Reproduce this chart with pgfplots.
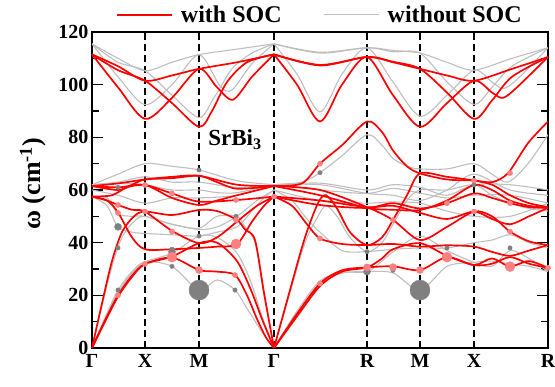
\documentclass[border=0pt]{standalone}
\usepackage{pgfplots}
\pgfplotsset{compat=1.18}
\usepackage{fontspec}
\setmainfont{Liberation Serif}
\definecolor{myred}{RGB}{255,0,0}
\definecolor{mygray}{RGB}{190,190,190}
\definecolor{dotpink}{RGB}{255,128,128}
\definecolor{dotgray}{RGB}{128,128,128}
\pgfplotsset{
  rb/.style={smooth, color=myred, line width=1.7pt, forget plot},
  gb/.style={smooth, color=mygray, line width=1.1pt, forget plot},
}
\begin{document}
\begin{tikzpicture}
\begin{axis}[
  name=ax,
  scale only axis, width=456pt, height=316pt,
  xmin=0, xmax=456, ymin=0, ymax=120,
  axis line style={line width=1.6pt},
  xtick={0,53,107,182,275,328,382,456},
  xticklabels={Γ,X,M,Γ,R,M,X,R},
  xtick style={draw=none},
  xticklabel style={yshift=-3pt},
  ytick={0,20,...,120}, minor ytick={10,30,...,110},
  ytick style={line width=1.4pt, black},
  tick align=inside, major tick length=11pt, minor tick length=7pt,
  ytick pos=both, yticklabel pos=left,
  /pgf/number format/assume math mode=true,
  ticklabel style={font=\fontsize{20}{24}\selectfont\bfseries},
  ylabel={ω (cm\textsuperscript{-1})},
  ylabel style={font=\fontsize{26}{30}\selectfont\bfseries, at={(axis description cs:-0.129,0.52)}, anchor=center},
  legend columns=2,
  legend style={at={(0.5,1)}, anchor=south, yshift=5pt, draw=none, fill=none, font=\fontsize{24}{28}\selectfont\bfseries, /tikz/every even column/.append style={column sep=40pt}, /tikz/every odd column/.append style={column sep=6pt}, inner sep=1pt},
  legend image code/.code={\draw[#1] (0pt,0pt) -- (55pt,0pt);},
  clip=true,
]
\addlegendimage{color=myred, line width=1.7pt}
\addlegendentry{with SOC}
\addlegendimage{color=mygray, line width=1.1pt}
\addlegendentry{without SOC}

% dashed lines
\foreach \xx in {53,107,182,275,328,382}{
  \edef\tmp{\noexpand\draw[dashed, dash pattern=on 7pt off 4pt, line width=1.2pt] (axis cs:\xx,0) -- (axis cs:\xx,120);}
  \tmp
}

% ===== gray (without SOC) upper =====
\addplot[gb] coordinates {(0,115.5)(26,110)(53,105.3)(80,108.5)(107,111.4)(145,113.5)(182,115.5)};
\addplot[gb] coordinates {(0,115.5)(26,108.5)(53,105.3)(80,96)(107,87.5)(122,95)(140,106)(160,112)(182,115.5)};
\addplot[gb] coordinates {(0,115.5)(26,103)(53,92.4)(80,100)(107,111.4)(128,99.5)(140,98)(160,108)(182,115.5)};
\addplot[gb] coordinates {(182,115.5)(228,112)(275,114)(301,113)(328,112)(355,108.5)(382,105.5)(420,110)(456,114)};
\addplot[gb] coordinates {(182,115.5)(205,104)(228,89.7)(250,104)(275,114)(301,101)(328,88)(355,96)(382,105.5)(400,101)(411,98.5)(425,102)(456,114)};
\addplot[gb] coordinates {(182,115.5)(228,112.3)(275,114)(301,112.5)(328,112)(355,101)(382,92.5)(400,99)(420,107)(456,114)};

% ===== gray lower =====
\addplot[gb] coordinates {(0,0)(13,11.5)(26,22)(40,29)(53,32.7)(80,31)(107,22)(125,25.8)(143,22)(155,15)(165,9)(174,4)(182,0)};
\addplot[gb] coordinates {(182,0)(205,14)(228,25.5)(250,28.5)(275,29)(301,28.5)(328,22)(355,31)(382,32.5)(400,33)(418,32)(437,31)(456,29)};
\addplot[gb] coordinates {(0,0)(13,11)(26,21)(40,28.5)(53,32.7)(80,36)(107,42.5)(125,42)(145,36)(159,25)(170,12)(182,0)};
\addplot[gb] coordinates {(182,0)(205,13)(228,24)(250,28.5)(275,29)(290,33)(301,36.5)(328,42.5)(355,37)(382,32.5)(400,31)(418,37)(437,34)(456,29)};
\addplot[gb] coordinates {(0,0)(10,16)(20,31)(30,42)(42,48)(53,50)(80,47)(107,45.5)(125,50)(145,50)(153,46)(163,40)(172,20)(182,0)};
\addplot[gb] coordinates {(182,0)(198,21)(213,40)(226,50)(234,54)(245,50)(258,42)(275,36.6)(290,40)(301,47)(315,56)(328,60)(355,60)(382,62)(400,58)(418,55)(437,53)(456,52)};
\addplot[gb] coordinates {(0,57.5)(15,54)(26,46)(40,44)(53,43.5)(80,43)(107,42.5)(125,44)(145,46)(160,52)(172,57)(182,60)};
\addplot[gb] coordinates {(182,60)(200,56)(215,49)(228,44)(250,37)(275,36.6)(301,37.5)(328,38)(355,38)(382,40)(400,41)(418,43)(437,40)(456,38)};
\addplot[gb] coordinates {(0,57.5)(15,57)(26,51)(40,50)(53,50)(80,47)(107,45)(125,46)(145,50)(165,56)(182,60)};
\addplot[gb] coordinates {(182,60)(228,56)(275,55)(301,55.5)(328,55)(355,52)(382,50)(418,50)(456,55)};
\addplot[gb] coordinates {(0,60)(26,58)(53,55)(80,57)(107,57)(145,58)(182,62)};
\addplot[gb] coordinates {(182,62)(228,60)(275,58.7)(301,60.6)(328,58.8)(355,57)(382,58)(418,58)(456,55)};
\addplot[gb] coordinates {(0,62)(26,62.5)(53,62)(80,60)(107,60)(125,59)(145,59)(182,62)};
\addplot[gb] coordinates {(182,62)(228,62)(275,58.7)(301,58)(328,56)(355,60)(382,66)(418,60)(456,58)};
\addplot[gb] coordinates {(0,62)(26,66)(53,70)(80,69)(107,67.6)(145,63.5)(182,62)};
\addplot[gb] coordinates {(182,62)(210,63)(228,66.6)(250,73)(275,81)(290,77)(301,72)(315,69)(328,68)(355,68)(382,70)(400,66)(416,63)(436,70)(456,81)};
\addplot[gb] coordinates {(0,62)(26,63)(53,65)(80,63)(107,63)(145,61)(182,62)};
\addplot[gb] coordinates {(182,62)(228,62.6)(275,60)(301,62)(328,61)(355,58)(382,62)(418,62)(456,60)};

% gray dots
\addplot[only marks, mark=*, mark size=10pt, color=dotgray, forget plot] coordinates {(107,22)(328,22)};
\addplot[only marks, mark=*, mark size=2.2pt, color=dotgray, forget plot] coordinates {(26,22)(26,38)(26,61)(80,31)(80,37.5)(107,42.5)(107,67.6)(143,22)(144,50)(301,29.5)(355,38)(418,38)(228,66.6)(275,36.6)(382,62)};
\addplot[only marks, mark=*, mark size=3.5pt, color=dotgray, forget plot] coordinates {(26,46)(275,29)(80,36.5)};

% ===== red (with SOC) upper =====
\addplot[rb] coordinates {(0,111.5)(26,107)(53,101.5)(80,103.5)(107,106)(145,108.5)(182,111.5)};
\addplot[rb] coordinates {(0,111.5)(26,105.5)(53,101.5)(80,93)(107,84)(120,90)(135,101)(155,108.5)(182,111.5)};
\addplot[rb] coordinates {(0,111.5)(26,99)(53,87)(80,95)(107,106)(125,99)(141,94.3)(160,103)(182,111.5)};
\addplot[rb] coordinates {(182,111.5)(228,107.5)(275,110.5)(301,108.5)(328,106)(355,103.5)(382,101.5)(420,106)(456,110.5)};
\addplot[rb] coordinates {(182,111.5)(205,100)(228,86)(250,100)(275,110.5)(301,96)(328,84)(355,93)(382,101.5)(400,97)(411,95)(425,99)(456,110.5)};
\addplot[rb] coordinates {(182,111.5)(228,107.3)(275,110.5)(301,108.7)(328,106)(355,97)(382,87)(400,94)(420,103)(456,110.5)};

% ===== red lower =====
\addplot[rb] coordinates {(0,0)(13,10.5)(26,20)(40,27.5)(53,31.9)(80,34.3)(107,29.6)(125,29)(143,27.7)(155,20)(165,11)(174,4)(182,0)};
\addplot[rb] coordinates {(182,0)(205,13)(228,24.5)(250,29.5)(275,30.6)(301,31)(328,29.6)(355,34.5)(382,31.5)(400,34)(418,31)(437,33)(456,30.4)};
\addplot[rb] coordinates {(0,0)(13,10)(26,19.5)(40,27)(53,31.9)(80,34.7)(107,39.8)(125,40)(145,33)(159,22)(170,11)(182,0)};
\addplot[rb] coordinates {(182,0)(205,12)(228,23.5)(250,29)(275,30.6)(290,34)(301,37.5)(328,39.8)(355,35)(382,31.5)(400,32)(418,34.5)(437,32)(456,30.4)};
\addplot[rb] coordinates {(0,0)(10,17)(20,33)(30,44)(42,50)(53,51.8)(80,50.5)(107,52.4)(125,52)(145,48.6)(153,45)(163,41)(172,21)(182,0)};
\addplot[rb] coordinates {(182,0)(198,22)(213,42)(226,55)(234,58)(245,53)(258,44)(275,39.1)(290,42)(301,48.6)(315,58)(328,66.3)(355,65)(382,63.6)(400,62)(418,58)(437,55)(456,53.5)};
\addplot[rb] coordinates {(0,57.5)(15,56)(26,51.5)(40,42)(53,37.5)(80,37.5)(107,38)(125,38.5)(145,39.5)(160,48)(172,54)(182,57.5)};
\addplot[rb] coordinates {(182,57.5)(200,54)(215,47)(228,41.6)(250,39.5)(275,39.1)(301,39.5)(328,38.5)(355,39)(382,38.5)(400,36.5)(418,35)(437,37)(456,39.1)};
\addplot[rb] coordinates {(0,57.5)(15,56)(26,54.3)(40,52.5)(53,51.8)(80,44.5)(107,39.8)(125,42)(145,48)(165,54)(182,57.5)};
\addplot[rb] coordinates {(182,57.5)(228,54.3)(275,53.2)(301,55)(328,53)(355,55)(382,58.7)(400,57)(418,55)(437,53.5)(456,53.2)};
\addplot[rb] coordinates {(0,57.5)(20,58)(35,61)(53,61.9)(80,58.7)(107,55.6)(145,56.2)(182,57.5)};
\addplot[rb] coordinates {(182,57.5)(228,56)(275,53.5)(301,54)(328,51.3)(355,49)(382,51.8)(400,49)(418,47)(437,50)(456,53.2)};
\addplot[rb] coordinates {(0,61.5)(26,61)(53,61.9)(80,57)(107,54.3)(125,56)(145,58)(182,61.5)};
\addplot[rb] coordinates {(182,61.5)(228,58)(275,53.2)(301,52.5)(328,52.4)(355,56)(382,61.9)(400,60)(418,56)(437,54)(456,53.2)};
\addplot[rb] coordinates {(0,61.5)(26,62.5)(53,64)(80,65)(107,65.4)(145,62)(182,61.5)};
\addplot[rb] coordinates {(182,61.5)(210,62.5)(228,70)(250,77)(275,86)(290,82)(301,75)(315,69)(328,66.3)(355,64)(382,63.6)(400,63)(416,66.4)(436,77.8)(456,86)};
\addplot[rb] coordinates {(0,61.5)(26,60)(40,62)(53,64)(80,64.5)(107,65.4)(125,63)(145,60.5)(182,61.5)};
\addplot[rb] coordinates {(182,61.5)(228,60)(275,53.5)(301,48.6)(328,41)(355,46)(382,51.8)(400,50)(418,44.2)(437,40.5)(456,39.1)};

% pink dots
\addplot[only marks, mark=*, mark size=2.6pt, color=dotpink, forget plot] coordinates {(26,20)(26,51.3)(26,54.3)(53,31.9)(53,51.8)(53,61.9)(80,44.2)(80,58.7)(144,48.6)(144,56.2)(143,27.7)(182,57.5)(228,24.5)(228,41.6)(228,70)(301,48.6)(355,55)(382,51.8)(382,63.6)(418,44.2)(418,55)(418,66.4)(456,30.4)};
\addplot[only marks, mark=*, mark size=3.6pt, color=dotpink, forget plot] coordinates {(107,29.6)(275,30.6)(301,30.7)(328,29.6)};
\addplot[only marks, mark=*, mark size=5pt, color=dotpink, forget plot] coordinates {(80,34.5)(144,39.5)(355,34.5)(418,30.9)};

\node[font=\fontsize{23}{27}\selectfont\bfseries] at (axis cs:143,79) {SrBi\textsubscript{3}};
\end{axis}
\pgfresetboundingbox
\path ([shift={(-92pt,-39pt)}]ax.south west) rectangle ([shift={(7pt,32pt)}]ax.north east);
\end{tikzpicture}
\end{document}
